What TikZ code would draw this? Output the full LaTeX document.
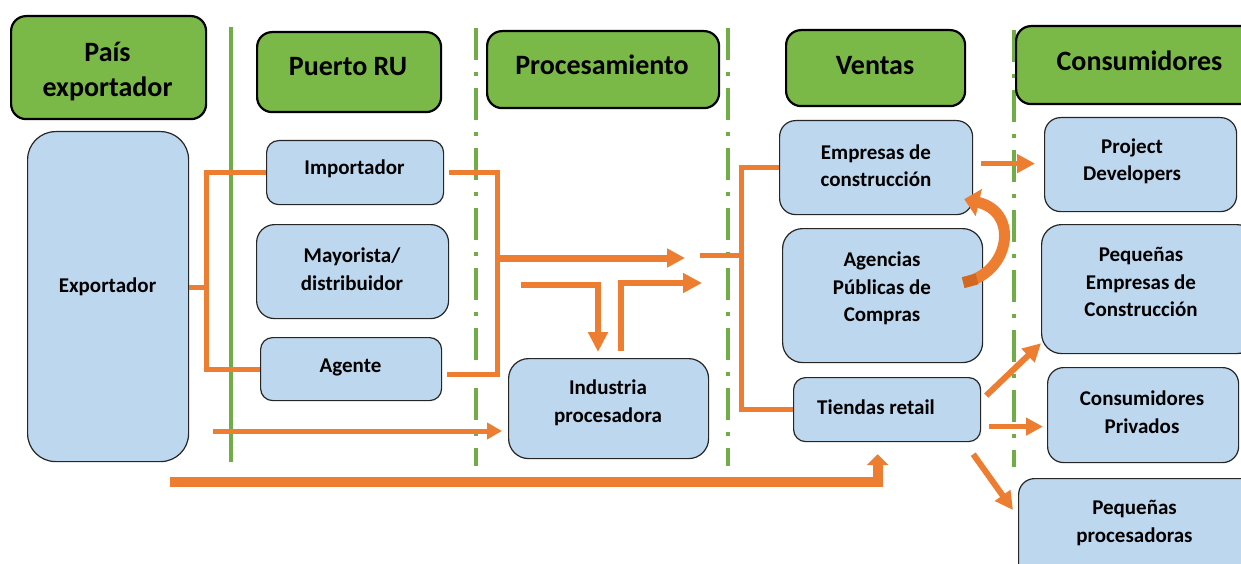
\documentclass[tikz,border=0pt]{standalone}
\usepackage{fontspec}
\setmainfont{Carlito}
\usetikzlibrary{arrows.meta,calc}
\definecolor{hgreen}{RGB}{122,184,72}
\definecolor{vgreen}{RGB}{112,173,71}
\definecolor{lblue}{RGB}{189,215,238}
\definecolor{orng}{RGB}{237,125,49}
\definecolor{dorng}{RGB}{210,105,35}
\newcommand\hfont{\fontsize{28}{35}\selectfont\bfseries}
\newcommand\bfont{\fontsize{21}{27.5}\selectfont\bfseries}
\tikzset{
  hdr/.style={draw=black, line width=2.2pt, fill=hgreen, rounded corners=15pt, anchor=north west, inner sep=0},
  bbox/.style={draw=black!85, line width=1.2pt, fill=lblue, rounded corners=15pt, anchor=north west, inner sep=0},
  ht/.style={font=\hfont, align=center, inner sep=0, yshift=-2pt},
  bt/.style={font=\bfont, align=center, inner sep=0, yshift=-2pt},
  vsolid/.style={draw=vgreen, line width=3.5pt},
  vdash/.style={draw=vgreen, line width=4pt, dash pattern=on 32pt off 12pt on 4pt off 12pt},
  con/.style={draw=orng, line width=5pt},
  arr/.style={con, line width=6pt, -{Triangle[length=18pt,width=18pt]}},
}
\begin{document}
\begin{tikzpicture}[x=1pt,y=-1pt]
\useasboundingbox (0,0) rectangle (1241,564);
\clip (0,0) rectangle (1241,564);
\fill[white] (0,0) rectangle (1241,564);

% vertical separators
\coordinate (v1t) at (231,27);  \coordinate (v1b) at (231,462);
\coordinate (v2t) at (476,28);  \coordinate (v2b) at (476,466);
\coordinate (v3t) at (728,28);  \coordinate (v3b) at (728,466);
\coordinate (v4t) at (1014,30); \coordinate (v4b) at (1014,467);
\draw[vsolid] (v1t) -- (v1b);
\draw[vdash] (v2t) -- (v2b);
\draw[vdash] (v3t) -- (v3b);
\draw[vdash] (v4t) -- (v4b);

% headers
\node[hdr, minimum width=195, minimum height=103] (hpais) at (10,15) {};
\node[ht] (hpais-t) at (107.5,69.5) {País\\exportador};
\node[hdr, minimum width=184, minimum height=80] (hpuerto) at (256,31) {};
\node[ht] (hpuerto-t) at (348,65) {Puerto RU};
\node[hdr, minimum width=232, minimum height=77] (hproc) at (486,30) {};
\node[ht] (hproc-t) at (602,63) {Procesamiento};
\node[hdr, minimum width=179, minimum height=76] (hventas) at (785,29) {};
\node[ht] (hventas-t) at (875,64) {Ventas};
\node[hdr, minimum width=240, minimum height=78] (hcons) at (1015,25) {};
\node[ht] (hcons-t) at (1139.5,59) {Consumidores};

% blue boxes
\node[bbox, rounded corners=28pt, minimum width=161, minimum height=330] (exp) at (27,131) {};
\node[bt] (exp-t) at (107.5,285) {Exportador};
\node[bbox, rounded corners=12pt, minimum width=177, minimum height=64] (imp) at (266,140) {};
\node[bt] (imp-t) at (354.5,167) {Importador};
\node[bbox, rounded corners=18pt, minimum width=192, minimum height=94] (may) at (256,224) {};
\node[bt] (may-t) at (352,267) {Mayorista/\\distribuidor};
\node[bbox, rounded corners=12pt, minimum width=181, minimum height=63] (age) at (260,337) {};
\node[bt] (age-t) at (350.5,365) {Agente};
\node[bbox, rounded corners=20pt, minimum width=200, minimum height=100] (ind) at (508,358) {};
\node[bt] (ind-t) at (608,401) {Industria\\procesadora};
\node[bbox, rounded corners=16pt, minimum width=193, minimum height=94] (emp) at (779,120) {};
\node[bt] (emp-t) at (876,163.5) {Empresas de\\construcción};
\node[bbox, rounded corners=20pt, minimum width=200, minimum height=134] (agn) at (782,228) {};
\node[bt] (agn-t) at (882,286.5) {Agencias\\Públicas de\\Compras};
\node[bbox, rounded corners=12pt, minimum width=187, minimum height=64] (tie) at (793,377) {};
\node[bt] (tie-t) at (876,405) {Tiendas retail};
\node[bbox, rounded corners=16pt, minimum width=192, minimum height=94] (pd) at (1044,117) {};
\node[bt] (pd-t) at (1132,159.5) {Project\\Developers};
\node[bbox, rounded corners=20pt, minimum width=215, minimum height=129] (pe) at (1041,224) {};
\node[bt] (pe-t) at (1141,280) {Pequeñas\\Empresas de\\Construcción};
\node[bbox, rounded corners=16pt, minimum width=191, minimum height=95] (cp) at (1047,367) {};
\node[bt] (cp-t) at (1142,410) {Consumidores\\Privados};
\node[bbox, rounded corners=16pt, minimum width=240, minimum height=110] (pp) at (1018,478) {};
\node[bt] (pp-t) at (1134.5,521) {Pequeñas\\procesadoras};

% connectors
\coordinate (j1) at (206,287);
\draw[con] (exp.east |- j1) -- (j1);
\draw[con] (imp.west) -| (j1) |- (age.west);

\coordinate (j2) at (497,258);
\draw[con] ($(imp.east)+(5,0)$) -| (j2) |- ($(age.east)+(5,5)$);
\coordinate (a2e) at (685,258);
\draw[arr, line width=7pt] ($(j2)+(-2.5,0)$) -- (a2e);

\coordinate (a3s) at (521,285);
\draw[arr, line width=6.5pt, -{Triangle[length=20pt,width=19pt]}] (a3s) -| ($(ind.north west)+(90,-6)$);

\coordinate (a4e) at (702,283);
\draw[arr, -{Triangle[length=19pt,width=19pt]}] ($(ind.north west)+(113,-7)$) |- (a4e);

\coordinate (a5s) at (700,255);
\coordinate (j5) at (741,255);
\draw[con] (a5s) -- (j5);
\draw[con] (emp.west) -| (j5) |- (tie.west);

\coordinate (a6s) at (213,431);
\draw[con, -{Triangle[length=15pt,width=16pt]}] (a6s) -- ($(ind.west |- a6s)+(-6,0)$);

\coordinate (a7s) at (170,482);
\draw[con, line width=10pt, -{Triangle[length=11pt,width=21pt]}] (a7s) -| ($(tie.south)+(-9.5,12)$);

% curved arrow from Agencias to Empresas
\draw[con, line width=11pt, -{Triangle[length=15pt,width=27pt]}]
  ($(agn.east)+(-20,-13)$) .. controls (1010,274) and (1020,212) .. ($(emp.south east)+(-9,-16)$);
\draw[draw=dorng, line width=11pt] ($(agn.east)+(-20,-13)$) .. controls (970,281) .. (977,279);

\draw[con, -{Triangle[length=18pt,width=18pt]}] ($(emp.east)+(8,-4)$) -- ($(pd.west)+(-9,-1)$);
\draw[arr] ($(tie.east)+(5,-14)$) -- ($(pe.south west)+(0,-11)$);
\draw[con, -{Triangle[length=17pt,width=17pt]}] ($(tie.east)+(8,17)$) -- ($(cp.west)+(-4,11.5)$);
\draw[arr] ($(tie.south east)+(-8,12)$) -- ($(pp.north west)+(-5,32)$);
\end{tikzpicture}
\end{document}
